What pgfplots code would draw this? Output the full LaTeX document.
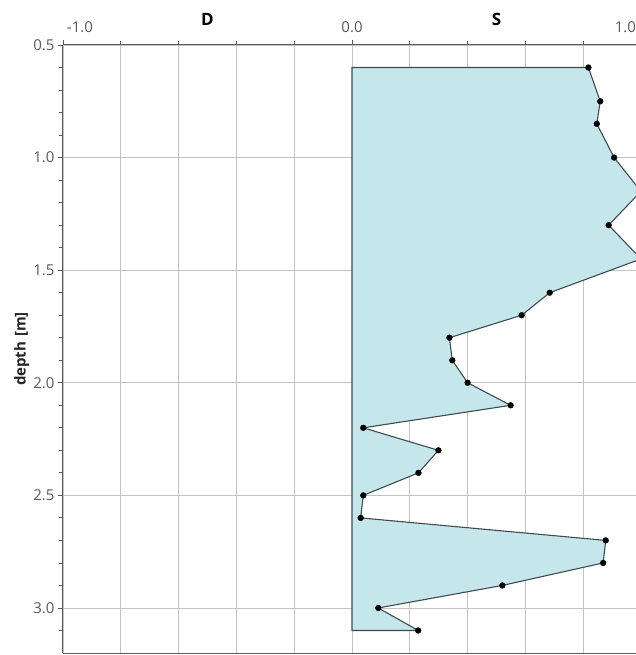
\documentclass[border=0pt]{standalone}
\usepackage{pgfplots}
\pgfplotsset{compat=1.18}
\usepackage{fontspec}
\setmainfont{Open Sans}
\definecolor{fillc}{RGB}{197,230,234}
\definecolor{linec}{RGB}{62,76,82}
\definecolor{gridc}{RGB}{195,195,195}
\definecolor{tickc}{RGB}{90,90,90}
\definecolor{axc}{RGB}{90,90,90}
\begin{document}
\begin{tikzpicture}
\begin{axis}[
  scale only axis, width=578pt, height=608pt,
  xmin=-1, xmax=1, ymin=0.5, ymax=3.2, y dir=reverse,
  axis x line*=top, axis y line*=left,
  axis line style={draw=axc, line width=1pt},
  xtick={-1,0,1},
  xticklabels={\makebox[0pt][l]{\hspace{4pt}-1.0},0.0,\makebox[0pt][r]{1.0\hspace{5pt}}},
  minor xtick={-0.8,-0.6,-0.4,-0.2,0.2,0.4,0.6,0.8},
  ytick={0.5,1,1.5,2,2.5,3}, yticklabels={0.5,1.0,1.5,2.0,2.5,3.0},
  minor ytick={0.6,0.7,0.8,0.9,1.1,1.2,1.3,1.4,1.6,1.7,1.8,1.9,2.1,2.2,2.3,2.4,2.6,2.7,2.8,2.9,3.1},
  xmajorgrids=true, xminorgrids=true, ymajorgrids=true, yminorgrids=false,
  major grid style={draw=gridc, line width=0.8pt},
  minor grid style={draw=gridc, line width=0.8pt},
  tick align=outside, major tick length=5pt, minor tick length=3.5pt,
  tick style={draw=axc, line width=0.8pt},
  /pgf/number format/assume math mode=true,
  tick label style={font=\fontsize{15}{17}\selectfont, text=tickc},
  xticklabel style={yshift=4pt},
  extra x ticks={-0.5,0.5}, extra x tick labels={D,S},
  extra x tick style={grid=none, major tick length=0pt,
    tick label style={font=\bfseries\fontsize{17}{19}\selectfont, text=black, yshift=12pt}},
  ylabel={depth\,\,[m]},
  ylabel style={font=\bfseries\fontsize{15}{17}\selectfont, text=black!85,
    at={(axis description cs:-0.0712,0.5)}, anchor=center},
]
\addplot[draw=linec, line width=1.1pt, fill=fillc] coordinates {
(0,0.6) (0.818,0.6) (0.859,0.75) (0.847,0.85) (0.907,1.0) (1.0,1.15)
(0.888,1.3) (1.0,1.45) (0.684,1.6) (0.587,1.7) (0.337,1.8) (0.347,1.9)
(0.40,2.0) (0.549,2.1) (0.039,2.2) (0.299,2.3) (0.230,2.4) (0.039,2.5)
(0.030,2.6) (0.878,2.7) (0.869,2.8) (0.520,2.9) (0.091,3.0) (0.229,3.1)
(0,3.1)} -- cycle;
\addplot[only marks, mark=*, mark size=2.9pt, black] coordinates {
(0.818,0.6) (0.859,0.75) (0.847,0.85) (0.907,1.0)
(0.888,1.3) (0.684,1.6) (0.587,1.7) (0.337,1.8) (0.347,1.9)
(0.40,2.0) (0.549,2.1) (0.039,2.2) (0.299,2.3) (0.230,2.4) (0.039,2.5)
(0.030,2.6) (0.878,2.7) (0.869,2.8) (0.520,2.9) (0.091,3.0) (0.229,3.1)};
\end{axis}
\draw[axc, line width=1pt] (current axis.south west) -- (current axis.south east);
\pgfresetboundingbox
\path[use as bounding box] ([xshift=-63pt,yshift=-2pt]current axis.south west) rectangle ([xshift=-5pt,yshift=45pt]current axis.north east);
\end{tikzpicture}
\end{document}
